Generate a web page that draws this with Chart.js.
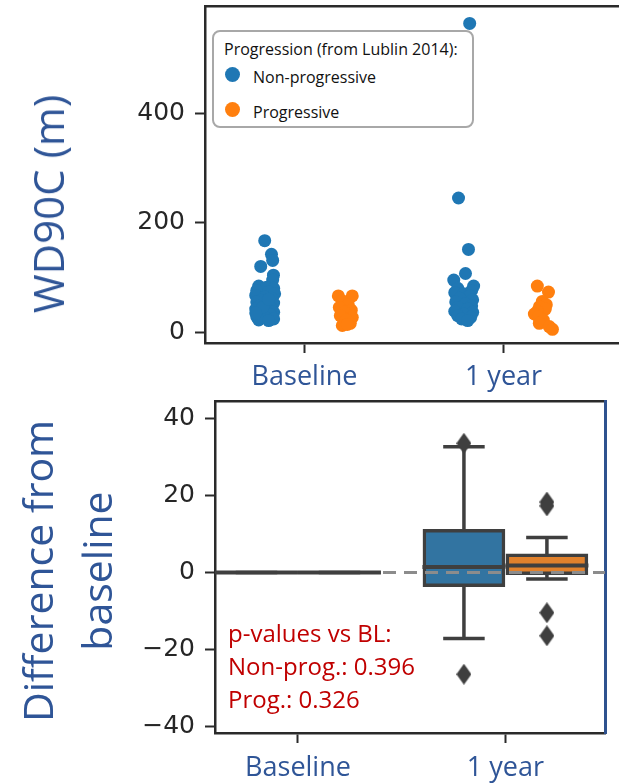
<!DOCTYPE html>
<html>
<head>
<meta charset="utf-8">
<script src="https://cdn.jsdelivr.net/npm/chart.js@4.4.0/dist/chart.umd.min.js"></script>
<style>
    body { margin: 0; background: #fff; width: 619px; height: 783px; overflow: hidden; position: relative; font-family: "Open Sans", sans-serif; }
    canvas { position: absolute; left: 0; }
    #topCanvas { top: 0; }
    #botCanvas { top: 392px; }
    .ytitle { position: absolute; color: #2F5597; white-space: nowrap; line-height: 1; transform: translate(-50%, -50%) rotate(-90deg); }
    .legendBox { position: absolute; left: 212px; top: 30px; width: 262px; height: 98px; box-sizing: border-box; border: 2px solid #a8a8a8; border-radius: 8px; background: #fff; }
    .legendText { position: absolute; font-size: 16px; line-height: 16px; color: #111; white-space: nowrap; }
    .dot { position: absolute; width: 15px; height: 15px; border-radius: 50%; }
    .pvals { position: absolute; left: 228px; top: 616px; font-size: 24px; line-height: 33px; color: #c00000; white-space: nowrap; }
</style>
</head>
<body>
<!-- top canvas is wider than the window: the panel runs off the right edge like in the source figure -->
<canvas id="topCanvas" width="650" height="392"></canvas>
<canvas id="botCanvas" width="619" height="391"></canvas>

<div class="ytitle" style="left:48px; top:204px; font-size:42px;">WD90C (m)</div>
<div class="ytitle" style="left:37px; top:571px; font-size:41px;">Difference from</div>
<div class="ytitle" style="left:96px; top:571px; font-size:41px;">baseline</div>

<div class="legendBox"></div>
<div class="legendText" id="legTitle" style="left:224px; top:41px;"></div>
<div class="dot" style="left:225px; top:67px; background:#1f77b4;"></div>
<div class="legendText" id="leg0" style="left:253px; top:69px;"></div>
<div class="dot" style="left:225px; top:102px; background:#ff7f0e;"></div>
<div class="legendText" id="leg1" style="left:253px; top:104px;"></div>

<div class="pvals" id="pvals"></div>

<script>
const categories = ['Baseline', '1 year'];
const groups = ['Non-progressive', 'Progressive'];
const legendTitle = 'Progression (from Lublin 2014):';
const pvalueLines = ['p-values vs BL:', 'Non-prog.: 0.396', 'Prog.: 0.326'];

// top panel: WD90C (m), one value per patient, plus the strip jitter
const nonProgBaseline = [167, 142, 131, 120, 104, 95, 84, 82, 80, 76, 73, 70, 67, 64, 62, 58, 55, 53, 50, 47, 44, 42, 40, 36, 33, 31, 28, 26, 24, 22, 21, 45, 60, 35];
const nonProgBaselineJit = [0, 0.034, 0.04, -0.02, 0.044, 0.04, -0.03, 0.01, 0.045, -0.04, 0.02, 0.05, -0.045, 0, 0.035, -0.02, -0.04, 0.045, 0.01, -0.03, 0.03, -0.045, 0.015, 0.045, -0.02, 0.03, -0.04, 0.005, 0.045, -0.03, 0.02, -0.01, 0.02, -0.045];
const nonProgYear1 = [564, 245, 151, 107, 95, 84, 80, 76, 72, 70, 66, 62, 59, 55, 52, 48, 45, 42, 38, 36, 33, 30, 27, 24, 21];
const nonProgYear1Jit = [0.03, -0.026, 0.024, 0.009, -0.05, 0.05, -0.03, 0.04, -0.045, 0, 0.03, -0.02, 0.045, -0.04, 0.01, 0.04, -0.03, 0.02, -0.045, 0.045, 0, -0.03, 0.035, -0.01, 0.02];
const progBaseline = [66, 66, 57, 50, 45, 40, 36, 30, 27, 22, 16, 12, 14];
const progBaselineJit = [-0.03, 0.04, -0.01, 0.02, -0.025, 0.035, 0, -0.02, 0.04, 0.01, 0.03, -0.01, 0.015];
const progYear1 = [84, 73, 56, 50, 46, 42, 38, 33, 28, 22, 16, 10, 5];
const progYear1Jit = [-0.03, 0.026, -0.005, 0.015, -0.02, 0.01, -0.03, -0.045, -0.025, 0, -0.02, 0.03, 0.046];
const yTicksTop = [0, 200, 400];

// bottom panel: difference from baseline, box statistics per category [Baseline, 1 year]
const nonProgQ1 = [0, -3.7];
const nonProgMed = [0, 1.4];
const nonProgQ3 = [0, 11.2];
const nonProgLo = [0, -17.2];
const nonProgHi = [0, 32.7];
const nonProgOut = [[], [33.6, -26.5]];
const progQ1 = [0, -0.6];
const progMed = [0, 1.8];
const progQ3 = [0, 4.8];
const progLo = [0, -1.7];
const progHi = [0, 9.1];
const progOut = [[], [18.3, 17.3, -10.5, -16.5]];
const yTicksBottom = [-40, -20, 0, 20, 40];

const blue = '#1f77b4', orange = '#ff7f0e';
const boxBlue = '#3274a1', boxOrange = '#e1812c';
const gray = '#3f3f3f', spine = '#2a2a2a', titleBlue = '#2F5597';
const dodge = [-0.2, 0.2];

document.getElementById('legTitle').textContent = legendTitle;
document.getElementById('leg0').textContent = groups[0];
document.getElementById('leg1').textContent = groups[1];
document.getElementById('pvals').innerHTML = pvalueLines.join('<br>');

Chart.defaults.animation = false;
Chart.defaults.events = [];

function strip(values, jit, cat, g) {
    return values.map((v, i) => ({ x: cat + dodge[g] + jit[i], y: v }));
}
// fixed axis box, no extra padding for labels hanging over the ends
function fixSize(w, h) {
    return s => {
        if (w !== null) s.width = w;
        if (h !== null) s.height = h;
        s.paddingTop = 0; s.paddingBottom = 0; s.paddingLeft = 0; s.paddingRight = 0;
    };
}

const xTickFont = { family: 'Open Sans', size: 27 };
const yTickFont = { family: 'DejaVu Sans', size: 25 };

new Chart(document.getElementById('topCanvas'), {
    type: 'scatter',
    data: {
        datasets: [
            { label: groups[0], data: strip(nonProgBaseline, nonProgBaselineJit, 0, 0).concat(strip(nonProgYear1, nonProgYear1Jit, 1, 0)),
              backgroundColor: blue, borderWidth: 0, pointRadius: 6.5 },
            { label: groups[1], data: strip(progBaseline, progBaselineJit, 0, 1).concat(strip(progYear1, progYear1Jit, 1, 1)),
              backgroundColor: orange, borderWidth: 0, pointRadius: 6.5 }
        ]
    },
    options: {
        responsive: false,
        layout: { padding: { top: 6, left: 0, right: 0, bottom: 0 } },
        plugins: { legend: { display: false }, tooltip: { enabled: false } },
        scales: {
            x: {
                type: 'linear', min: -0.5, max: 1.7035, offset: false,
                afterBuildTicks: s => { s.ticks = categories.map((c, i) => ({ value: i })); },
                afterFit: fixSize(null, 49),
                ticks: { callback: v => categories[v], font: xTickFont, color: titleBlue, padding: 8, maxRotation: 0 },
                grid: { drawOnChartArea: false, tickLength: 10, tickWidth: 2, tickColor: spine, offset: false },
                border: { color: spine, width: 2.5 }
            },
            x2: {
                type: 'linear', position: 'top',
                afterFit: fixSize(null, 0),
                ticks: { display: false },
                grid: { display: false },
                border: { color: spine, width: 2.5 }
            },
            y: {
                min: -20, max: 595,
                afterBuildTicks: s => { s.ticks = yTicksTop.map(v => ({ value: v })); },
                afterFit: fixSize(205, null),
                ticks: { font: yTickFont, color: '#262626', padding: 10 },
                grid: { drawOnChartArea: false, tickLength: 10, tickWidth: 2, tickColor: spine },
                border: { color: spine, width: 2.5 }
            }
        }
    }
});

// bottom panel datasets built from the stats arrays
const halfBox = 0.2, halfCap = 0.1;

function boxData(q1, q3, g) {
    return categories.map((c, i) => ({ x: i + dodge[g], y: [q1[i], q3[i]] }));
}
function medianData(med, g) {
    const pts = [];
    categories.forEach((c, i) => {
        const x = i + dodge[g];
        pts.push({ x: x - halfBox, y: med[i] }, { x: x + halfBox, y: med[i] }, { x: x, y: null });
    });
    return pts;
}
function whiskerData(q1, q3, lo, hi, g) {
    const pts = [];
    categories.forEach((c, i) => {
        const x = i + dodge[g];
        pts.push({ x: x, y: q3[i] }, { x: x, y: hi[i] }, { x: x, y: null });
        pts.push({ x: x - halfCap, y: hi[i] }, { x: x + halfCap, y: hi[i] }, { x: x, y: null });
        pts.push({ x: x, y: q1[i] }, { x: x, y: lo[i] }, { x: x, y: null });
        pts.push({ x: x - halfCap, y: lo[i] }, { x: x + halfCap, y: lo[i] }, { x: x, y: null });
    });
    return pts;
}
function outlierData(out, g) {
    const pts = [];
    out.forEach((vals, i) => vals.forEach(v => pts.push({ x: i + dodge[g], y: v })));
    return pts;
}

// thin diamond marker like matplotlib 'd'
const diamond = document.createElement('canvas');
diamond.width = 15; diamond.height = 21;
(function () {
    const c = diamond.getContext('2d');
    c.fillStyle = gray;
    c.beginPath();
    c.moveTo(7.5, 0); c.lineTo(15, 10.5); c.lineTo(7.5, 21); c.lineTo(0, 10.5);
    c.closePath(); c.fill();
})();

const xMinB = -0.4, xMaxB = 1.48;
const lineStyle = { type: 'line', showLine: true, fill: false, pointRadius: 0, tension: 0, spanGaps: false, borderCapStyle: 'butt' };

new Chart(document.getElementById('botCanvas'), {
    type: 'bar',
    data: {
        datasets: [
            Object.assign({ data: whiskerData(nonProgQ1, nonProgQ3, nonProgLo, nonProgHi, 0), borderColor: gray, borderWidth: 3.5, order: 6 }, lineStyle),
            Object.assign({ data: whiskerData(progQ1, progQ3, progLo, progHi, 1), borderColor: gray, borderWidth: 3.5, order: 6 }, lineStyle),
            { type: 'bar', data: boxData(nonProgQ1, nonProgQ3, 0), backgroundColor: boxBlue, borderColor: gray, borderWidth: 3.5,
              borderSkipped: false, barThickness: 82, grouped: false, order: 5 },
            { type: 'bar', data: boxData(progQ1, progQ3, 1), backgroundColor: boxOrange, borderColor: gray, borderWidth: 3.5,
              borderSkipped: false, barThickness: 82, grouped: false, order: 5 },
            Object.assign({ data: [{ x: xMinB, y: 0 }, { x: xMaxB, y: 0 }], borderColor: '#8c8c8c', borderWidth: 3, borderDash: [13, 8], order: 3 }, lineStyle),
            Object.assign({ data: medianData(nonProgMed, 0), borderColor: gray, borderWidth: 4, order: 2 }, lineStyle),
            Object.assign({ data: medianData(progMed, 1), borderColor: gray, borderWidth: 4, order: 2 }, lineStyle),
            { type: 'scatter', data: outlierData(nonProgOut, 0).concat(outlierData(progOut, 1)), pointStyle: diamond, pointRadius: 8, order: 1 }
        ]
    },
    options: {
        responsive: false,
        layout: { padding: { top: 5, left: 0, right: 0, bottom: 0 } },
        plugins: { legend: { display: false }, tooltip: { enabled: false } },
        scales: {
            x: {
                type: 'linear', min: xMinB, max: xMaxB, offset: false,
                afterBuildTicks: s => { s.ticks = categories.map((c, i) => ({ value: i })); },
                afterFit: fixSize(null, 50),
                ticks: { callback: v => categories[v], font: xTickFont, color: titleBlue, padding: 9, maxRotation: 0 },
                grid: { drawOnChartArea: false, tickLength: 10, tickWidth: 2, tickColor: spine, offset: false },
                border: { color: spine, width: 2.5 }
            },
            x2: {
                type: 'linear', position: 'top',
                afterFit: fixSize(null, 0),
                ticks: { display: false },
                grid: { display: false },
                border: { color: spine, width: 2.5 }
            },
            y: {
                type: 'linear', min: -41.8, max: 44.6,
                afterBuildTicks: s => { s.ticks = yTicksBottom.map(v => ({ value: v })); },
                afterFit: fixSize(215, null),
                ticks: { font: yTickFont, color: '#262626', padding: 10, callback: v => String(v).replace('-', '\u2212') },
                grid: { drawOnChartArea: false, tickLength: 10, tickWidth: 2, tickColor: spine },
                border: { color: spine, width: 2.5 }
            },
            y2: {
                type: 'linear', position: 'right',
                afterFit: fixSize(14, null),
                ticks: { display: false },
                grid: { display: false },
                border: { color: '#2F528F', width: 3 }
            }
        }
    }
});
</script>
</body>
</html>
